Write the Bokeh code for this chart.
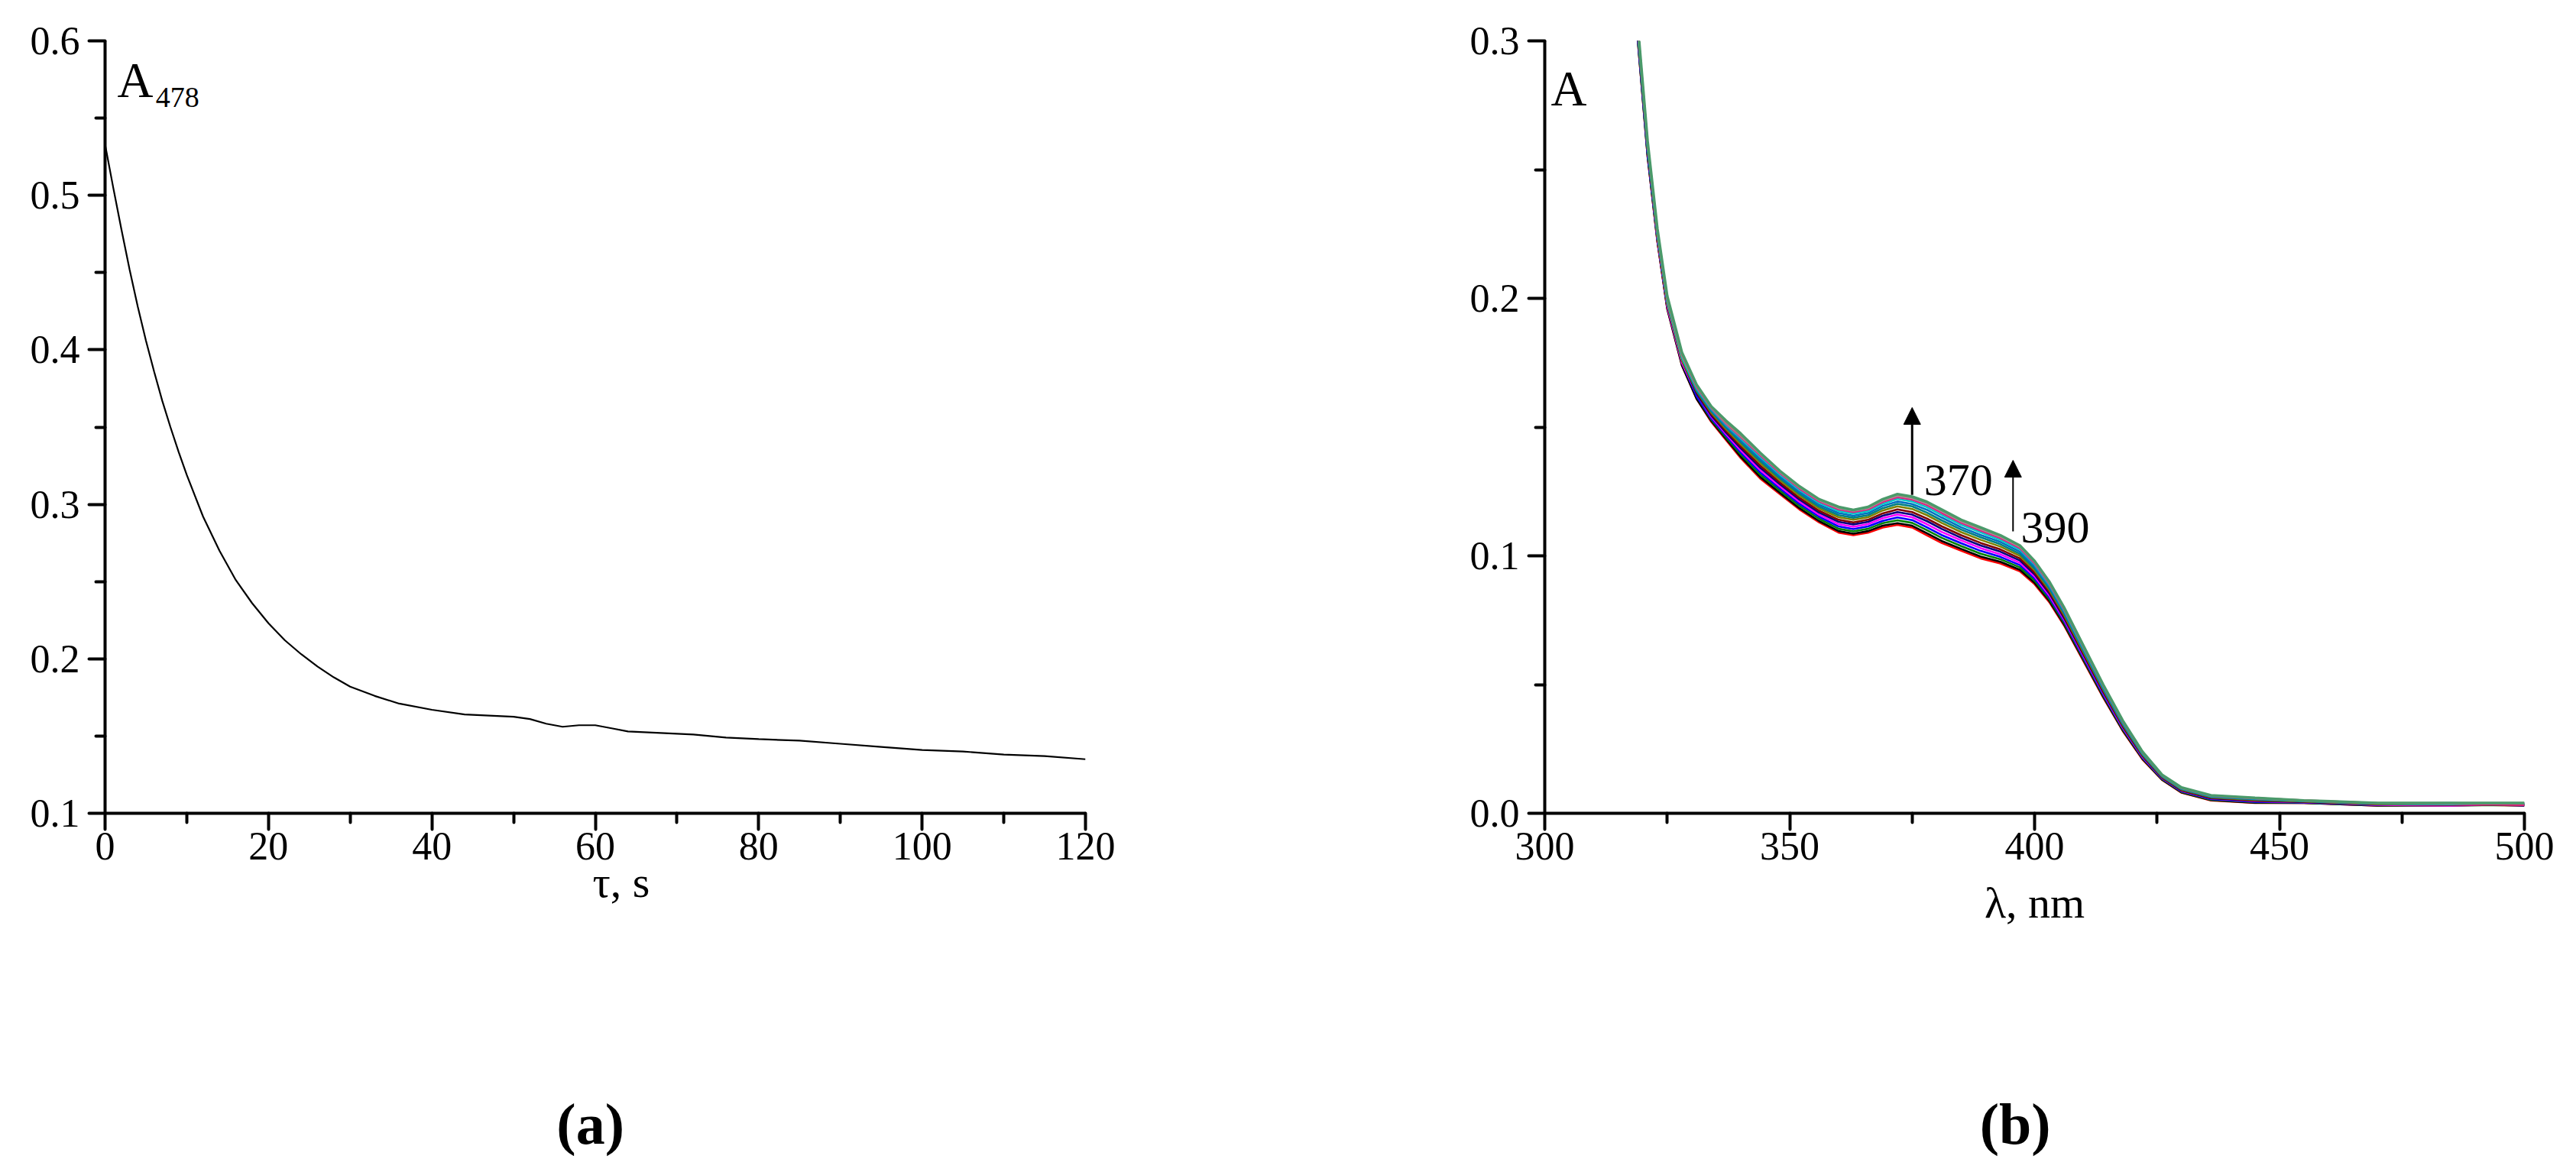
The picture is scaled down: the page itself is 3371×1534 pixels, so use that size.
from bokeh.plotting import figure
from bokeh.layouts import row
from bokeh.models import (Range1d, FixedTicker, PrintfTickFormatter, Label, Arrow, NormalHead,
                          LinearAxis)
from bokeh.embed import file_html
from bokeh.resources import INLINE

FONT = "Liberation Serif"

# ---------------- data: panel (a) ----------------
t_s = [0, 1, 2, 3, 4, 5, 6, 7, 8, 9, 10, 12, 14, 16, 18, 20, 22, 24, 26, 28, 30, 33, 36, 40,
       44, 48, 50, 52, 54, 56, 58, 60, 62, 64, 68, 72, 76, 80, 85, 90, 95, 100, 105, 110, 115, 120]
a478 = [0.533, 0.505, 0.478, 0.452, 0.428, 0.406, 0.386, 0.367, 0.350, 0.334, 0.319, 0.292,
        0.270, 0.251, 0.236, 0.223, 0.212, 0.203, 0.195, 0.188, 0.182, 0.176, 0.171, 0.167,
        0.164, 0.163, 0.1625, 0.161, 0.158, 0.156, 0.157, 0.157, 0.155, 0.153, 0.152, 0.151,
        0.149, 0.148, 0.147, 0.145, 0.143, 0.141, 0.140, 0.138, 0.137, 0.135]

# ---------------- data: panel (b) ----------------
wl_nm = [318, 319, 321, 323, 325, 328, 331, 334, 337, 340, 344, 348, 352, 356, 360, 363, 366,
         369, 372, 375, 378, 381, 385, 389, 393, 397, 400, 403, 406, 410, 414, 418, 422, 426,
         430, 436, 445, 455, 470, 485, 500]

spec_01 = [.322, .300, .255, .222, .196, .174, .161, .152, .145, .138, .130, .124, .118, .113, .109, .108, .109, .111, .112, .111, .108, .105, .102, .099, .097, .094, .089, .082, .073, .059, .045, .032, .021, .013, .008, .005, .004, .004, .003, .0035, .003]
spec_02 = [.322, .300, .255, .222, .196, .174, .161, .1524, .1454, .1385, .1306, .1245, .1185, .1135, .1096, .1086, .1096, .1117, .1127, .1117, .1088, .1058, .1027, .0997, .0977, .0946, .0895, .0825, .0734, .0594, .0453, .0322, .0212, .0131, .0081, .0051, .0041, .004, .003, .003, .0035]
spec_03 = [.323, .301, .256, .223, .197, .175, .162, .1529, .146, .1394, .1315, .1254, .1194, .1144, .1105, .1095, .1105, .1127, .1138, .1128, .110, .107, .1038, .1008, .0987, .0955, .0904, .0832, .0741, .0599, .0458, .0326, .0215, .0133, .0083, .0053, .0043, .0041, .0031, .0032, .0031]
spec_04 = [.323, .301, .256, .223, .197, .175, .162, .1534, .1467, .1402, .1324, .1262, .1202, .1152, .1114, .1104, .1114, .1136, .1149, .1139, .1111, .1081, .1049, .1019, .0996, .0964, .0912, .0839, .0747, .0604, .0462, .033, .0217, .0135, .0085, .0055, .0045, .0042, .0032, .0036, .0034]
spec_05 = [.323, .302, .257, .223, .197, .175, .163, .154, .1473, .141, .1333, .127, .121, .116, .1123, .1113, .1123, .1146, .116, .115, .1123, .1093, .106, .103, .1006, .0973, .092, .0846, .0753, .061, .0467, .0333, .022, .0137, .0087, .0057, .0047, .0043, .0033, .003, .0038]
spec_06 = [.324, .302, .257, .224, .198, .176, .163, .1545, .1479, .1418, .1342, .1278, .1218, .1168, .1132, .1122, .1132, .1156, .117, .116, .1135, .1105, .107, .104, .1016, .0982, .0928, .0854, .0759, .0615, .0471, .0337, .0223, .0138, .0088, .0058, .0048, .0044, .0034, .0038, .003]
spec_07 = [.324, .303, .258, .224, .198, .176, .1635, .155, .1485, .1425, .135, .1285, .1225, .1175, .114, .113, .114, .1165, .118, .117, .1145, .1115, .108, .105, .1025, .099, .0935, .086, .0765, .062, .0475, .034, .0225, .014, .009, .006, .005, .0045, .0035, .0033, .0036]
spec_08 = [.324, .303, .258, .224, .198, .176, .164, .1556, .1492, .1434, .136, .1294, .1234, .1184, .115, .114, .115, .1176, .1192, .1182, .1158, .1128, .1092, .1062, .1036, .100, .0944, .0868, .0772, .0626, .048, .0344, .0228, .0142, .0092, .0062, .0052, .0046, .0036, .0036, .0033]
spec_09 = [.325, .303, .258, .225, .199, .177, .164, .1561, .1498, .1441, .1368, .1301, .1241, .1191, .1158, .1148, .1158, .1185, .1202, .1192, .1168, .1138, .1102, .1072, .1045, .1008, .0951, .0874, .0778, .0631, .0484, .0347, .023, .0144, .0094, .0064, .0054, .0047, .0037, .0034, .0039]
spec_10 = [.325, .304, .259, .225, .199, .177, .165, .1566, .1503, .1448, .1376, .1308, .1248, .1198, .1166, .1156, .1166, .1194, .1211, .1201, .1179, .1149, .1111, .1081, .1054, .1016, .0958, .0881, .0783, .0636, .0488, .035, .0233, .0145, .0095, .0065, .0055, .0048, .0038, .004, .0035]
spec_11 = [.325, .304, .259, .225, .199, .177, .165, .157, .1509, .1456, .1384, .1316, .1256, .1206, .1174, .1164, .1174, .1202, .1221, .1211, .1189, .1159, .1121, .1091, .1062, .1024, .0966, .0887, .0789, .064, .0492, .0354, .0235, .0147, .0097, .0067, .0057, .0048, .0038, .0035, .0037]
spec_12 = [.326, .305, .260, .226, .200, .178, .1655, .1574, .1513, .1461, .139, .1321, .1261, .1211, .118, .117, .118, .1209, .1228, .1218, .1197, .1167, .1128, .1098, .1069, .103, .0971, .0892, .0793, .0644, .0495, .0356, .0237, .0148, .0098, .0068, .0058, .0049, .0039, .0037, .0032]
spec_13 = [.326, .305, .260, .226, .200, .178, .166, .1577, .1517, .1466, .1395, .1326, .1266, .1216, .1185, .1175, .1185, .1215, .1234, .1224, .1204, .1174, .1134, .1104, .1075, .1035, .0976, .0896, .0797, .0647, .0498, .0358, .0239, .0149, .0099, .0069, .0059, .005, .004, .0039, .0038]
spec_14 = [.326, .305, .260, .226, .200, .178, .166, .1579, .1519, .1468, .1398, .1328, .1268, .1218, .1188, .1178, .1188, .1218, .1237, .1227, .1207, .1177, .1137, .1107, .1078, .1038, .0978, .0898, .0799, .0649, .0499, .0359, .0239, .0149, .0099, .0069, .0059, .005, .004, .004, .004]
spec_15 = [.327, .306, .261, .227, .201, .179, .1665, .158, .1525, .1475, .140, .133, .127, .122, .119, .1178, .119, .122, .124, .123, .121, .118, .114, .111, .108, .104, .098, .090, .080, .065, .050, .036, .024, .015, .010, .007, .006, .005, .004, .004, .004]

spectra = [spec_01, spec_02, spec_03, spec_04, spec_05, spec_06, spec_07, spec_08,
           spec_09, spec_10, spec_11, spec_12, spec_13, spec_14, spec_15]
spec_colors = ["#FF0000", "#000000", "#008000", "#0000FF", "#FF00FF", "#000080", "#800000",
               "#808000", "#008080", "#0070C0", "#00C8C8", "#E0207F", "#A0A0A0", "#B07070", "#4A9A6A"]

a_xticks = [0, 20, 40, 60, 80, 100, 120]
a_xminor = [10, 30, 50, 70, 90, 110]
a_yticks = [0.1, 0.2, 0.3, 0.4, 0.5, 0.6]
a_yminor = [0.15, 0.25, 0.35, 0.45, 0.55]
b_xticks = [300, 350, 400, 450, 500]
b_xminor = [325, 375, 425, 475]
b_yticks = [0.0, 0.1, 0.2, 0.3]
b_yminor = [0.05, 0.15, 0.25]


def style_axes(p, xt, xm, yt, ym, xfmt, yfmt):
    p.xaxis.ticker = FixedTicker(ticks=xt, minor_ticks=xm)
    p.yaxis.ticker = FixedTicker(ticks=yt, minor_ticks=ym)
    p.xaxis.formatter = PrintfTickFormatter(format=xfmt)
    p.yaxis.formatter = PrintfTickFormatter(format=yfmt)
    for ax in (p.xaxis[0], p.yaxis[0]):
        ax.axis_line_width = 4
        ax.axis_line_color = "black"
        ax.major_tick_line_width = 4
        ax.minor_tick_line_width = 4
        ax.major_tick_line_cap = "round"
        ax.minor_tick_line_cap = "round"
        ax.major_tick_in = 0
        ax.major_tick_out = 21
        ax.minor_tick_in = 0
        ax.minor_tick_out = 12
        ax.major_label_text_font = FONT
        ax.major_label_text_font_size = "52px"
        ax.major_label_text_color = "black"
        ax.axis_label_text_font = FONT
        ax.axis_label_text_font_style = "normal"
        ax.axis_label_text_color = "black"
        ax.axis_label_text_font_size = "58px"
    p.xaxis.major_label_standoff = 4
    p.yaxis.major_label_standoff = 12
    p.grid.visible = False
    p.outline_line_color = None


def caption_axis(p, text, standoff):
    ax = LinearAxis(axis_label=text, ticker=FixedTicker(ticks=[]),
                    axis_line_color=None, major_tick_line_color=None, minor_tick_line_color=None,
                    major_tick_out=0, minor_tick_out=0, major_label_standoff=0,
                    major_label_text_font_size="0px",
                    axis_label_standoff=standoff, axis_label_text_font=FONT,
                    axis_label_text_font_size="76px", axis_label_text_font_style="bold",
                    axis_label_text_color="black")
    p.add_layout(ax, "below")


def lab(p, x, y, text, size):
    p.add_layout(Label(x=x, y=y, text=text, text_font=FONT, text_font_size=size,
                       text_align="left", text_baseline="alphabetic", text_color="black"))


H = 1534
p1 = figure(width=1700, height=H, x_range=Range1d(0, 120), y_range=Range1d(0.1, 0.6),
            output_backend="svg", toolbar_location=None,
            min_border_left=137, min_border_right=280, min_border_top=53, min_border_bottom=470)
style_axes(p1, a_xticks, a_xminor, a_yticks, a_yminor, "%d", "%.1f")
p1.xaxis.axis_label = "\u2003\u2006τ, s"
p1.xaxis.axis_label_standoff = -6
caption_axis(p1, "(a)\u2006", 239)
p1.line(t_s, a478, line_color="black", line_width=2.2)
lab(p1, 1.5, 0.5743, "A", "65px")
lab(p1, 6.2, 0.5634, "478", "38px")

p2 = figure(width=1671, height=H, x_range=Range1d(300, 500), y_range=Range1d(0.0, 0.3),
            output_backend="svg", toolbar_location=None,
            min_border_left=321, min_border_right=68, min_border_top=53, min_border_bottom=470)
style_axes(p2, b_xticks, b_xminor, b_yticks, b_yminor, "%d", "%.1f")
p2.xaxis.axis_label = "λ, nm"
p2.xaxis.axis_label_standoff = 21
caption_axis(p2, "(b)\u2002\u2006", 212)
for ys, c in zip(spectra, spec_colors):
    p2.line(wl_nm, ys, line_color=c, line_width=3.5 if c == "#4A9A6A" else 2.6)
lab(p2, 301.25, 0.2816, "A", "65px")
lab(p2, 377.4, 0.1294, "370", "60px")
lab(p2, 397.2, 0.111, "390", "60px")
p2.add_layout(Arrow(x_start=375.0, y_start=0.1237, x_end=375.0, y_end=0.1576,
                    line_width=3, line_color="black",
                    end=NormalHead(size=22, fill_color="black", line_color="black")))
p2.add_layout(Arrow(x_start=395.6, y_start=0.1095, x_end=395.6, y_end=0.1371,
                    line_width=2, line_color="black",
                    end=NormalHead(size=22, fill_color="black", line_color="black")))

layout = row(p1, p2)
open("out.html", "w").write(file_html(layout, INLINE))
